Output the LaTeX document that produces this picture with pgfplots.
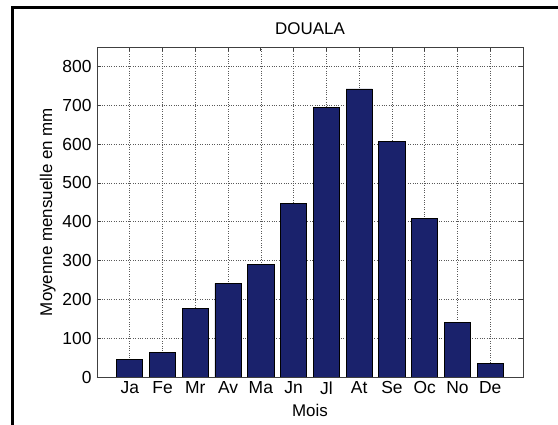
\documentclass[border=0pt]{standalone}
\usepackage{pgfplots}
\pgfplotsset{compat=1.18}
\usepackage{fontspec}
\setmainfont{Liberation Sans}
\definecolor{barblue}{RGB}{26,34,108}

\begin{document}
\begin{tikzpicture}
\useasboundingbox (0bp,0bp) rectangle (558bp,425bp);
% frame (top and left edges only)
\draw[line width=3bp] (12bp,0bp) -- (12bp,417bp) -- (558bp,417bp);
\begin{axis}[
    at={(97bp,48bp)}, anchor=south west,
    scale only axis,
    width=426bp, height=330bp,
    xmin=0, xmax=13, ymin=0, ymax=850,
    ybar, bar width=0.8, bar shift=0pt,
    xtick={1,...,12},
    xticklabels={Ja,Fe,Mr,Av,Ma,Jn,Jl,At,Se,Oc,No,De},
    ytick={0,100,...,800},
    tick align=inside,
    major tick length=4bp,
    grid=major,
    major grid style={black!65, dotted, line width=0.6bp},
    axis line style={black!75, line width=0.7bp},
    tick style={black!75, line width=0.7bp},
    ticklabel style={font=\fontsize{17.5}{18}\selectfont},
    xticklabel style={yshift=-1bp},
    yticklabel style={xshift=-2bp},
    /pgf/number format/assume math mode=true,
    xlabel={Mois},
    ylabel={Moyenne mensuelle en mm},
    label style={font=\fontsize{17}{18}\selectfont},
    xlabel style={yshift=-3bp},
    ylabel style={yshift=0bp},
    title={DOUALA},
    title style={font=\fontsize{17}{18}\selectfont, yshift=3bp},
]
\addplot[fill=barblue, draw=black, line width=0.8bp] coordinates {
    (1,46) (2,63) (3,177) (4,241) (5,290) (6,446)
    (7,695) (8,742) (9,606) (10,408) (11,141) (12,35)
};
\end{axis}
\end{tikzpicture}
\end{document}
